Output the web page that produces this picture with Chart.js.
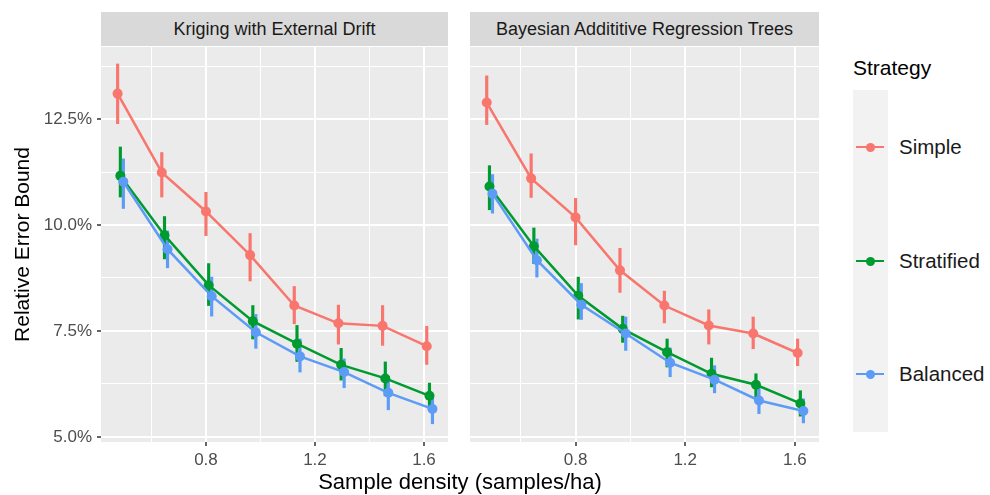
<!DOCTYPE html>
<html>
<head>
<meta charset="utf-8">
<script src="https://cdn.jsdelivr.net/npm/chart.js@4.4.1/dist/chart.umd.min.js"></script>
<style>
  body { margin: 0; background: #fff; font-family: "Liberation Sans", Arial, sans-serif; }
  #wrap { position: relative; width: 990px; height: 495px; overflow: hidden; }
  canvas { position: absolute; top: 0; }
  .strip { position: absolute; top: 12px; height: 34px; background: #d9d9d9; color: #1a1a1a;
           font-size: 18px; line-height: 34px; text-align: center; }
  #xtitle { position: absolute; top: 469px; left: 101px; width: 718px; text-align: center;
            font-size: 22px; color: #000; }
  #ltitle { position: absolute; left: 853px; top: 56px; font-size: 21px; color: #000; }
  #keybg { position: absolute; left: 853px; top: 90px; width: 35px; height: 342px; background: #f2f2f2; }
  .kline { position: absolute; left: 856px; width: 28px; height: 2.5px; }
  .kdot { position: absolute; left: 865.5px; width: 9px; height: 9px; border-radius: 50%; }
  .klabel { position: absolute; left: 899px; font-size: 20.5px; color: #1a1a1a; line-height: 24px; }
</style>
</head>
<body>
<div id="wrap">
  <canvas id="ked" width="455" height="470" style="left:0px"></canvas>
  <canvas id="bart" width="360" height="470" style="left:465px"></canvas>
  <div class="strip" style="left:101px;width:347px">Kriging with External Drift</div>
  <div class="strip" style="left:470px;width:349px">Bayesian Addititive Regression Trees</div>
  <div id="xtitle">Sample density (samples/ha)</div>
  <div id="ltitle">Strategy</div>
  <div id="keybg"></div>
  <div id="legend"></div>
</div>
<script>
// sample density (samples/ha) and axis ticks
const density = [0.486, 0.648, 0.81, 0.972, 1.134, 1.296, 1.458, 1.62];
const xMajor = [0.8, 1.2, 1.6];
const xMinor = [0.6, 1.0, 1.4];
const yMajor = [5, 7.5, 10, 12.5];
const yMinor = [6.25, 8.75, 11.25, 13.75];

const strategies = ["Simple", "Stratified", "Balanced"];
const colors = ["#F8766D", "#009B30", "#5C9BF6"];

// Kriging with External Drift (relative error bound, %)
const kedSimple = [13.10, 11.24, 10.32, 9.29, 8.10, 7.68, 7.62, 7.14];
const kedSimpleLo = [12.39, 10.66, 9.75, 8.68, 7.67, 7.19, 7.16, 6.71];
const kedSimpleHi = [13.80, 11.71, 10.77, 9.80, 8.55, 8.11, 8.10, 7.61];
const kedStrat = [11.16, 9.76, 8.58, 7.73, 7.20, 6.70, 6.38, 5.97];
const kedStratLo = [10.66, 9.20, 8.10, 7.31, 6.78, 6.34, 5.97, 5.64];
const kedStratHi = [11.84, 10.20, 9.09, 8.10, 7.63, 7.09, 6.77, 6.27];
const kedBal = [11.02, 9.43, 8.32, 7.47, 6.90, 6.53, 6.04, 5.66];
const kedBalLo = [10.39, 8.99, 7.85, 7.09, 6.53, 6.16, 5.64, 5.31];
const kedBalHi = [11.56, 9.86, 8.77, 7.89, 7.31, 6.84, 6.43, 6.00];

// Bayesian Additive Regression Trees
const bartSimple = [12.89, 11.10, 10.18, 8.93, 8.10, 7.63, 7.44, 6.98];
const bartSimpleLo = [12.37, 10.65, 9.53, 8.41, 7.69, 7.19, 7.08, 6.68];
const bartSimpleHi = [13.52, 11.68, 10.63, 9.45, 8.44, 8.00, 7.83, 7.31];
const bartStrat = [10.91, 9.50, 8.33, 7.55, 7.00, 6.49, 6.23, 5.79];
const bartStratLo = [10.36, 9.09, 7.78, 7.23, 6.65, 6.18, 5.94, 5.49];
const bartStratHi = [11.40, 9.93, 8.77, 7.85, 7.31, 6.86, 6.49, 6.09];
const bartBal = [10.74, 9.17, 8.12, 7.44, 6.75, 6.35, 5.86, 5.61];
const bartBalLo = [10.28, 8.77, 7.77, 7.04, 6.42, 6.04, 5.55, 5.33];
const bartBalHi = [11.19, 9.67, 8.62, 7.83, 7.10, 6.68, 6.23, 5.90];

// position_dodge like offsets per strategy
const dodge = [-0.010, 0, 0.011];

const panelBg = {
  id: "panelBg",
  beforeDraw(chart) {
    const a = chart.chartArea;
    const ctx = chart.ctx;
    ctx.save();
    ctx.fillStyle = "#ebebeb";
    ctx.fillRect(a.left, a.top, a.right - a.left, a.bottom - a.top);
    ctx.restore();
  }
};

function isMajor(list, c) {
  if (!c || !c.tick) return true;
  return list.some((m) => Math.abs(m - c.tick.value) < 1e-6);
}

function isMajorVal(list, v) {
  return list.some((m) => Math.abs(m - v) < 1e-6);
}

function buildDatasets(means, los, his) {
  const lines = [];
  const bars = [];
  means.forEach((m, i) => {
    lines.push({
      type: "line",
      label: strategies[i],
      data: density.map((d, j) => ({ x: d + dodge[i], y: m[j] })),
      borderColor: colors[i],
      backgroundColor: colors[i],
      borderWidth: 2.5,
      pointRadius: 5,
      pointBorderWidth: 0,
      tension: 0,
      order: 0
    });
    bars.push({
      type: "bar",
      label: strategies[i] + " range",
      data: density.map((d, j) => ({ x: d + dodge[i], y: [los[i][j], his[i][j]] })),
      backgroundColor: colors[i],
      borderWidth: 0,
      barThickness: 2.5,
      grouped: false,
      order: 1
    });
  });
  return lines.reverse().concat(bars.reverse());
}

function makeChart(id, means, los, his, showY, pad) {
  const ctx = document.getElementById(id).getContext("2d");
  return new Chart(ctx, {
    type: "line",
    data: { datasets: buildDatasets(means, los, his) },
    plugins: [panelBg],
    options: {
      responsive: false,
      animation: false,
      devicePixelRatio: 1,
      layout: { padding: pad },
      plugins: { legend: { display: false }, tooltip: { enabled: false } },
      scales: {
        x: {
          type: "linear",
          min: 0.415,
          max: 1.688,
          offset: false,
          border: { display: false },
          afterBuildTicks: (s) => {
            s.ticks = xMajor.concat(xMinor).sort((a, b) => a - b).map((v) => ({ value: v }));
          },
          afterFit: (s) => { s.height = 28; },
          grid: {
            offset: false,
            color: "#ffffff",
            lineWidth: (c) => (isMajor(xMajor, c) ? 2 : 1),
            tickColor: (c) => (isMajor(xMajor, c) ? "#333333" : "rgba(0,0,0,0)"),
            tickLength: 4,
            tickWidth: 1.5
          },
          ticks: {
            autoSkip: false,
            maxRotation: 0,
            padding: 4,
            color: "#4d4d4d",
            font: { family: "Liberation Sans", size: 17 },
            callback: (v) => (isMajorVal(xMajor, v) ? v.toFixed(1) : "")
          }
        },
        y: {
          type: "linear",
          min: 4.88,
          max: 14.2,
          border: { display: false },
          afterBuildTicks: (s) => {
            s.ticks = yMajor.concat(yMinor).sort((a, b) => a - b).map((v) => ({ value: v }));
          },
          afterFit: (s) => { s.width = showY ? 101 : 0; },
          grid: {
            color: "#ffffff",
            lineWidth: (c) => (isMajor(yMajor, c) ? 2 : 1),
            tickColor: (c) => (isMajor(yMajor, c) ? "#333333" : "rgba(0,0,0,0)"),
            drawTicks: showY,
            tickLength: 4,
            tickWidth: 1.5
          },
          ticks: {
            display: showY,
            autoSkip: false,
            padding: 5,
            color: "#4d4d4d",
            font: { family: "Liberation Sans", size: 17 },
            callback: (v) => (isMajorVal(yMajor, v) ? v.toFixed(1) + "%" : "")
          },
          title: {
            display: showY,
            text: "Relative Error Bound",
            color: "#000000",
            font: { family: "Liberation Sans", size: 21 },
            padding: { top: 11, bottom: 0 }
          }
        }
      }
    }
  });
}

makeChart("ked",
  [kedSimple, kedStrat, kedBal],
  [kedSimpleLo, kedStratLo, kedBalLo],
  [kedSimpleHi, kedStratHi, kedBalHi],
  true, { left: 0, top: 47, right: 7, bottom: 0 });

makeChart("bart",
  [bartSimple, bartStrat, bartBal],
  [bartSimpleLo, bartStratLo, bartBalLo],
  [bartSimpleHi, bartStratHi, bartBalHi],
  false, { left: 5, top: 47, right: 6, bottom: 0 });

// legend
const legend = document.getElementById("legend");
const keyY = [147, 261, 374];
strategies.forEach((name, i) => {
  legend.innerHTML +=
    `<div class="kline" style="top:${keyY[i] - 1.25}px;background:${colors[i]}"></div>` +
    `<div class="kdot" style="top:${keyY[i] - 4.5}px;background:${colors[i]}"></div>` +
    `<div class="klabel" style="top:${keyY[i] - 12}px">${name}</div>`;
});
</script>
</body>
</html>
